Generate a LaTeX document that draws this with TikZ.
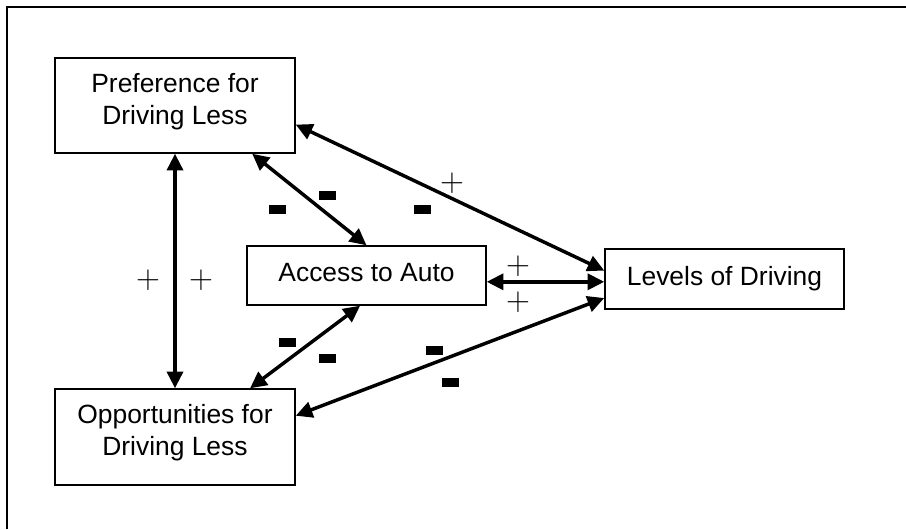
\documentclass[tikz,border=0pt]{standalone}
\usepackage{fontspec}
\setmainfont{Liberation Sans}
\usetikzlibrary{arrows.meta}
\usetikzlibrary{calc}

\tikzset{
  box/.style={draw, line width=1.1pt, align=center, inner sep=0pt, font=\fontsize{19.8}{24}\selectfont},
  link/.style={line width=2.6pt, {Triangle[length=12.5pt,width=12pt]}-{Triangle[length=12.5pt,width=12pt]}},
  minussign/.style={fill=black, inner sep=0pt, minimum width=12.75pt, minimum height=6.75pt},
  plussign/.style={inner sep=0pt, font=\fontsize{25.9}{26}\selectfont}
}

\begin{document}
\begin{tikzpicture}[x=0.75pt,y=0.75pt,yscale=-1,xscale=1]
\useasboundingbox (0,0) rectangle (906,529);

%Frame
\draw [line width=1.1pt] (7,529) -- (7,7) -- (906,7) ;

% Boxes
\node [box, text depth=10pt, minimum width=180pt, minimum height=71.25pt] (pref) at (175,105.5) {Preference for\\Driving Less};
\node [box, text depth=4pt, minimum width=179.25pt, minimum height=44.25pt] (access) at (366.5,275.5) {Access to Auto};
\node [box, minimum width=179.25pt, minimum height=45pt] (levels) at (724.5,279) {Levels of Driving};
\node [box, text depth=10pt, minimum width=180pt, minimum height=72pt] (opp) at (175,437) {Opportunities for\\Driving Less};

%Straight Lines
\draw [link] (pref.south) -- (opp.north) ;
\draw [link] (pref.-32) -- (access.north) ;
\draw [link] (pref.-9) -- (levels.176) ;
\draw [link] (access.-3) -- (access.-3 -| levels.west) ;
\draw [link] (opp.33) -- (access.-102) ;
\draw [link] (opp.10) -- (levels.189) ;

% Signs
\node [plussign] (p1) at (148,280) {$+$};
\node [plussign] (p2) at (201,280) {$+$};
\node [minussign] (m1) at (277,209) {};
\node [minussign] (m2) at (327,195) {};
\node [minussign] (m3) at (422,209) {};
\node [plussign] (p3) at (452,183) {$+$};
\node [plussign] (p4) at (518,266) {$+$};
\node [plussign] (p5) at (518,302) {$+$};
\node [minussign] (m4) at (287,342) {};
\node [minussign] (m5) at (327,358) {};
\node [minussign] (m6) at (434,350) {};
\node [minussign] (m7) at (450,382) {};

\end{tikzpicture}
\end{document}
